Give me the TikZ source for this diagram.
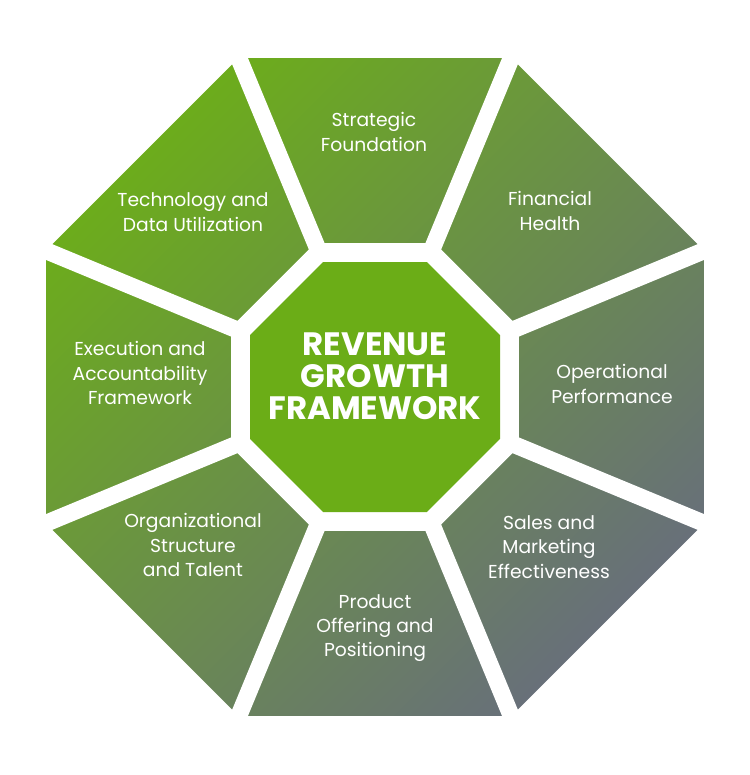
\documentclass[tikz,border=0pt]{standalone}
\usepackage{fontspec}
\setmainfont{Poppins}
\definecolor{gA}{HTML}{6CAC1C}
\definecolor{gB}{HTML}{687079}
\definecolor{core}{HTML}{6BAD17}
\begin{document}
\begin{tikzpicture}[x=1bp,y=-1bp,
  lbl/.style={text=white, align=center, inner sep=0pt, font=\fontsize{18.8}{24.5}\selectfont},
  ttl/.style={text=white, align=center, inner sep=0pt, font=\fontsize{32.5}{32}\selectfont\bfseries},
  gap/.style={white, line width=17bp}]
\useasboundingbox (0,0) rectangle (750,775);
\begin{scope}[shift={(375,387)}]
  % outer octagon with diagonal gradient
  \shade[top color=gA, bottom color=gB, shading angle=45]
    (22.5:356.11) -- (67.5:356.11) -- (112.5:356.11) -- (157.5:356.11) --
    (202.5:356.11) -- (247.5:356.11) -- (292.5:356.11) -- (337.5:356.11) -- cycle;
  % radial gaps
  \foreach \a in {22.5,67.5,...,337.5}
    \draw[gap] (0,0) -- (\a:380);
  % white ring between segments and core
  \fill[white]
    (22.5:155.86) -- (67.5:155.86) -- (112.5:155.86) -- (157.5:155.86) --
    (202.5:155.86) -- (247.5:155.86) -- (292.5:155.86) -- (337.5:155.86) -- cycle;
  % core octagon
  \fill[core]
    (22.5:135.30) -- (67.5:135.30) -- (112.5:135.30) -- (157.5:135.30) --
    (202.5:135.30) -- (247.5:135.30) -- (292.5:135.30) -- (337.5:135.30) -- cycle;
\end{scope}
\node[ttl] (core) at (375,376) {REVENUE\\GROWTH\\FRAMEWORK};
\node[lbl] (s1) at (374,132) {Strategic\\Foundation};
\node[lbl] (s2) at (550,211) {Financial\\Health};
\node[lbl] (s3) at (612,384) {Operational\\Performance};
\node[lbl] (s4) at (549,547) {Sales and\\Marketing\\Effectiveness};
\node[lbl] (s5) at (375,628) {Product\\Offering and\\Positioning};
\node[lbl] (s6) at (193,545) {Organizational\\Structure\\and Talent};
\node[lbl] (s7) at (140,373) {Execution and\\Accountability\\Framework};
\node[lbl] (s8) at (193,212) {Technology and\\Data Utilization};
\end{tikzpicture}
\end{document}
